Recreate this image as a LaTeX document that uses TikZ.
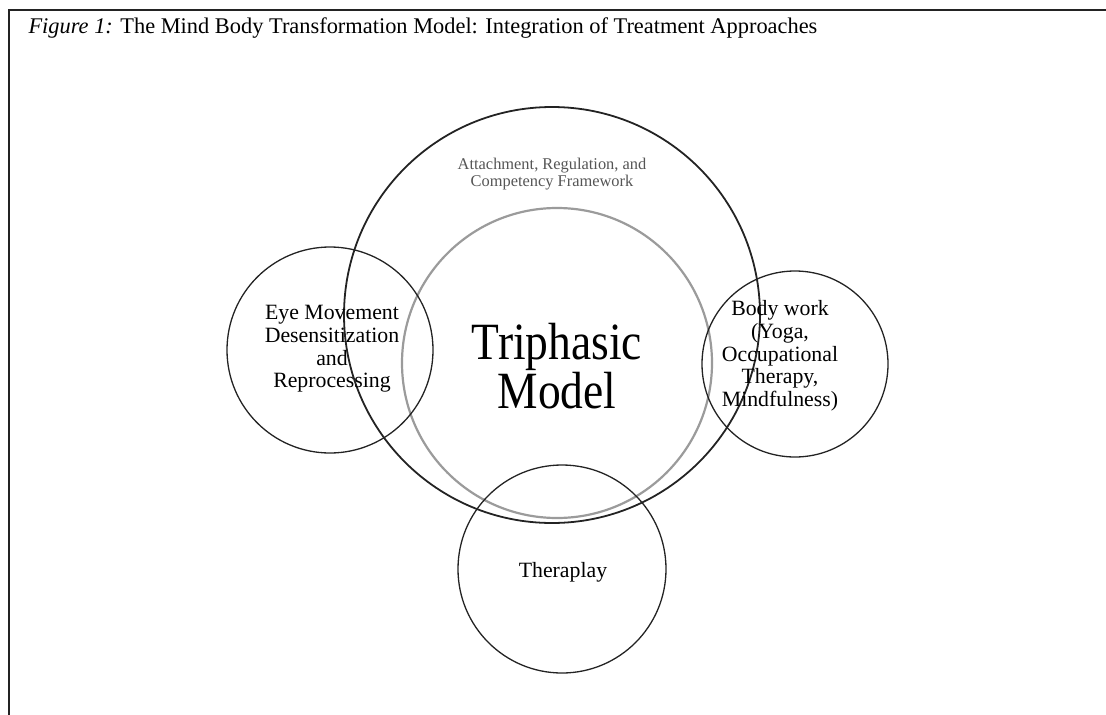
\documentclass[tikz,border=0pt]{standalone}
\usepackage{fontspec}
\setmainfont{Liberation Serif}
\definecolor{ringdark}{RGB}{35, 35, 35}
\definecolor{ringgray}{RGB}{155, 155, 155}
\definecolor{textgray}{RGB}{85, 85, 85}
\tikzset{
  ring/.style={circle, draw=ringdark, line width=1.3pt, inner sep=0pt},
  ringtext/.style={align=center, font=\fontsize{21.8}{22.7}\selectfont},
}

\begin{document}
\begin{tikzpicture}[x=1pt, y=-1pt]
	\useasboundingbox (0,0) rectangle (1106,715);

	% --- Frame and caption ---
	\draw[ringdark, line width=2pt] (1106,10) -- (9,10) -- (9,715);
	\node[anchor=base west, font=\fontsize{22.4}{24}\selectfont] (caption) at (25,33)
		{\textit{Figure 1:} The Mind Body Transformation Model: Integration of Treatment Approaches};

	% --- Framework and core model ---
	\node[ring, line width=1.8pt, minimum size=416pt] (arc) at (552,315) {};
	\node[ring, draw=ringgray, line width=2.2pt, minimum size=310pt] (tri) at (557,363) {};
	\node[align=center, text=textgray, font=\fontsize{16.4}{16.5}\selectfont] (arctext) at (552,174)
		{Attachment, Regulation, and\\Competency Framework};
	\node[align=center, yscale=1.15, transform shape, font=\fontsize{45.5}{33}\selectfont] (tritext) at (557,366)
		{Triphasic\\Model};

	% --- Side approaches ---
	\node[ring, minimum size=206pt] (emdr) at (330,350) {};
	\node[ring, minimum size=186pt] (body) at (795,364) {};
	\node[ring, minimum size=208pt] (play) at (562,569) {};

	\node[ringtext] (emdrtext) at (332,349) {Eye Movement\\Desensitization\\and\\Reprocessing};
	\node[ringtext] (bodytext) at (780,356) {Body work\\(Yoga,\\Occupational\\Therapy,\\Mindfulness)};
	\node[ringtext, anchor=base] (playtext) at (563,577) {Theraplay};

\end{tikzpicture}
\end{document}
